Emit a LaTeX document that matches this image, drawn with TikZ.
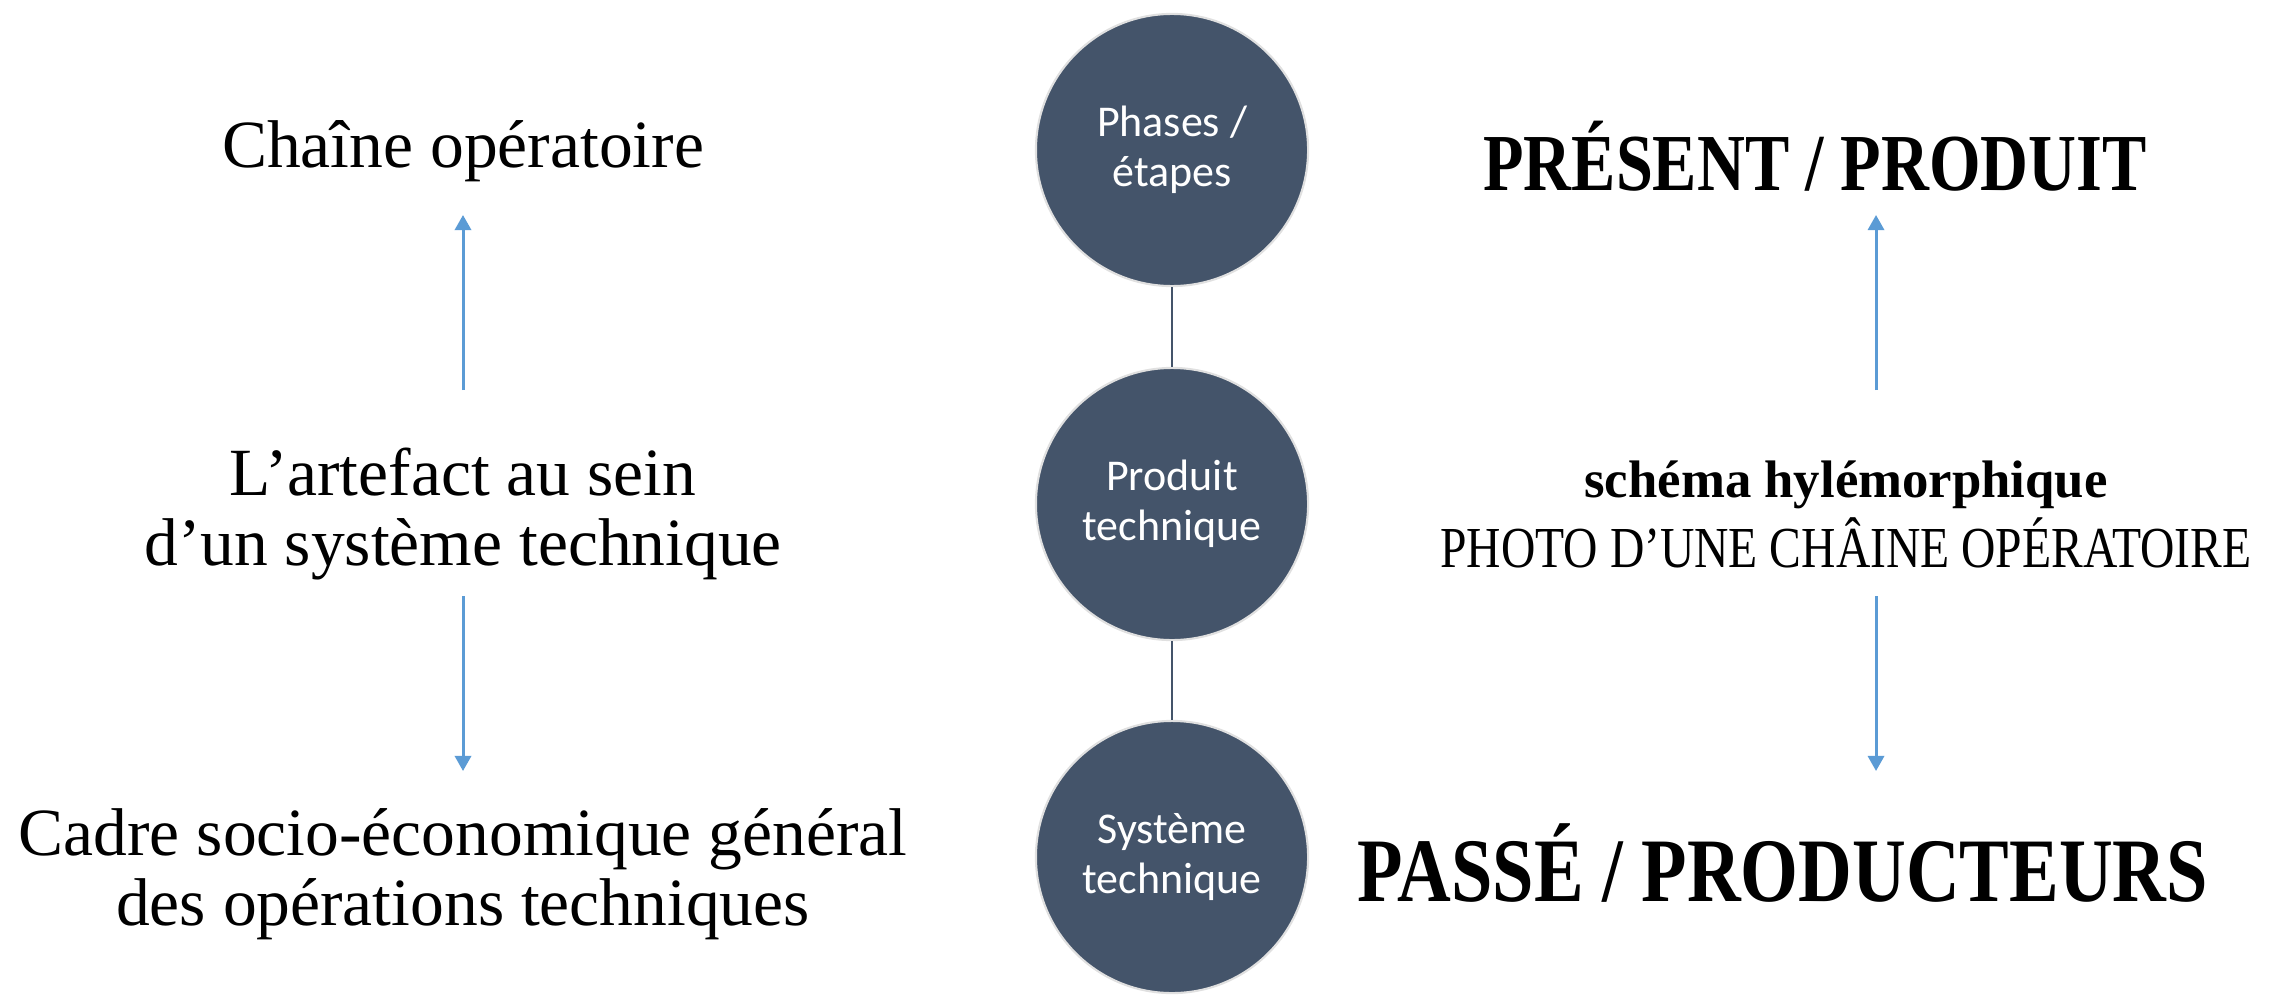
\documentclass[tikz,border=0pt]{standalone}
\usepackage{fontspec}
\setmainfont{Liberation Serif}
\newfontfamily\circfont{Carlito}
\newfontfamily\serifcond[FakeStretch=0.82]{Liberation Serif}
\definecolor{ardoise}{RGB}{68, 84, 106}
\definecolor{flechebleu}{RGB}{91, 155, 213}
\usetikzlibrary{shapes, arrows.meta, positioning, calc}

\tikzset{
  etape/.style={circle, fill=ardoise, draw=black!12, line width=0.6pt, minimum size=2.72cm,
    inner sep=0pt, text=white, align=center, font=\circfont\fontsize{12.5}{14.2}\selectfont},
  lien/.style={draw=ardoise, line width=0.75pt},
  fleche/.style={draw=flechebleu, line width=0.85pt, -{Triangle[width=4.6pt, length=4.3pt]}},
  gauche/.style={align=center, inner sep=0pt, font=\fontsize{19.2}{19.9}\selectfont},
  titre/.style={inner sep=0pt, anchor=base, font=\serifcond\bfseries},
}

\begin{document}
\begin{tikzpicture}[x=0.01cm, y=-0.01cm]
  \useasboundingbox (0,0) rectangle (2280,994);

  % cercles du milieu
  \node[etape] (phases) at (1172,150) {Phases /\\étapes};
  \node[etape] (produit) at (1172,504) {Produit\\technique};
  \node[etape] (systeme) at (1172,857) {Système\\technique};
  \draw[lien] (phases) -- (produit);
  \draw[lien] (produit) -- (systeme);

  % colonne de gauche
  \node[gauche, anchor=base] (chaine) at (463,168) {Chaîne opératoire};
  \node[gauche] (artefact) at (463,514) {L’artefact au sein\\d’un système technique};
  \node[gauche] (cadre) at (463,874) {Cadre socio-économique général\\des opérations techniques};

  % colonne de droite
  \node[titre, font=\serifcond\bfseries\fontsize{23}{26}\selectfont] (present) at (1815,190) {PRÉSENT / PRODUIT};
  \node[align=center, inner sep=0pt, font=\fontsize{15}{19.9}\selectfont] (schema) at (1846,514)
    {{\bfseries schéma hylémorphique}\\{\serifcond\fontsize{16.5}{19.9}\selectfont PHOTO D’UNE CHÂINE OPÉRATOIRE}};
  \node[titre, font=\serifcond\bfseries\fontsize{25.8}{28}\selectfont] (passe) at (1783,901) {PASSÉ / PRODUCTEURS};

  % fleches
  \coordinate (g0) at (463,390);
  \coordinate (g1) at (463,215);
  \coordinate (g2) at (463,596);
  \coordinate (g3) at (463,771);
  \coordinate (d0) at (1876,390);
  \coordinate (d1) at (1876,215);
  \coordinate (d2) at (1876,596);
  \coordinate (d3) at (1876,771);
  \draw[fleche] (g0) -- (g1);
  \draw[fleche] (g2) -- (g3);
  \draw[fleche] (d0) -- (d1);
  \draw[fleche] (d2) -- (d3);
\end{tikzpicture}
\end{document}
